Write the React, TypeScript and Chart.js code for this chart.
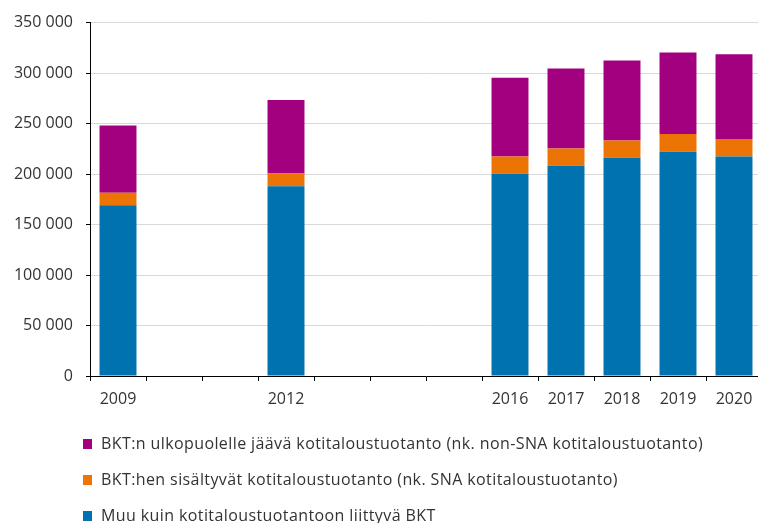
import React, { useEffect, useRef } from "react";
import { Chart, registerables } from "chart.js";

Chart.register(...registerables);

const years = ["2009", "2010", "2011", "2012", "2013", "2014", "2015", "2016", "2017", "2018", "2019", "2020"];
const otherGdp = [169000, null, null, 188000, null, null, null, 200400, 208300, 216200, 222100, 217500];
const snaHousehold = [12400, null, null, 12500, null, null, null, 17100, 17100, 17100, 17500, 17100];
const nonSnaHousehold = [66700, null, null, 72800, null, null, null, 77800, 79100, 79100, 80700, 84100];
const yMax = 350000;
const yStep = 50000;

const seriesNames = [
  "Muu kuin kotitaloustuotantoon liittyvä BKT",
  "BKT:hen sisältyvät kotitaloustuotanto (nk. SNA kotitaloustuotanto)",
  "BKT:n ulkopuolelle jäävä kotitaloustuotanto (nk. non-SNA kotitaloustuotanto)",
];
const seriesColors = ["#0072b0", "#eb7405", "#a3007f"];

const FONT = "'Open Sans', 'Noto Sans', sans-serif";
const TEXT = "#333333";

function fmt(v: number): string {
  return String(v).replace(/\B(?=(\d{3})+(?!\d))/g, " ");
}

const legendPlugin = {
  id: "rowLegend",
  afterDraw(chart: any) {
    const ctx = chart.ctx;
    const rows = [444, 480, 516];
    const order = [2, 1, 0];
    ctx.save();
    ctx.font = `16px ${FONT}`;
    try {
      (ctx as any).letterSpacing = "0.4px";
    } catch (e) {}
    ctx.textBaseline = "middle";
    ctx.textAlign = "left";
    order.forEach((dsIndex, i) => {
      const ds = chart.data.datasets[dsIndex];
      const y = rows[i];
      ctx.fillStyle = ds.backgroundColor;
      ctx.fillRect(83, y - 5, 9, 10);
      ctx.fillStyle = TEXT;
      ctx.fillText(ds.label, 101, y);
    });
    ctx.restore();
  },
};

export default function App() {
  const ref = useRef<HTMLCanvasElement | null>(null);

  useEffect(() => {
    if (!ref.current) return;
    const chart = new Chart(ref.current, {
      type: "bar",
      data: {
        labels: years,
        datasets: [
          { label: seriesNames[0], data: otherGdp, backgroundColor: seriesColors[0] },
          { label: seriesNames[1], data: snaHousehold, backgroundColor: seriesColors[1] },
          { label: seriesNames[2], data: nonSnaHousehold, backgroundColor: seriesColors[2] },
        ],
      },
      options: {
        animation: false,
        responsive: false,
        devicePixelRatio: 1,
        layout: { padding: { top: 22, left: 0, right: 0, bottom: 107 } },
        datasets: { bar: { barPercentage: 0.66, categoryPercentage: 1, borderWidth: 0 } },
        plugins: { legend: { display: false }, tooltip: { enabled: false } },
        scales: {
          x: {
            stacked: true,
            afterFit: (s: any) => {
              s.height = 40;
            },
            grid: {
              offset: true,
              drawOnChartArea: false,
              drawTicks: true,
              tickLength: 5,
              tickColor: "#000000",
              tickWidth: 1,
            },
            border: { display: true, color: "#000000", width: 1 },
            ticks: {
              autoSkip: false,
              maxRotation: 0,
              padding: 9,
              color: TEXT,
              font: { family: FONT, size: 16 },
              callback: (_v: any, i: number) => (otherGdp[i] === null ? "" : years[i]),
            },
          },
          y: {
            stacked: true,
            min: 0,
            max: yMax,
            afterFit: (s: any) => {
              s.width = 90;
            },
            grid: {
              color: "#d9d9d9",
              lineWidth: 1,
              drawTicks: true,
              tickLength: 4,
              tickColor: "#000000",
            },
            border: { display: true, color: "#000000", width: 1 },
            ticks: {
              stepSize: yStep,
              padding: 13,
              color: TEXT,
              font: { family: FONT, size: 16 },
              callback: (v: any) => fmt(Number(v)),
            },
          },
        },
      },
      plugins: [legendPlugin],
    });
    return () => chart.destroy();
  }, []);

  return (
    <div style={{ position: "fixed", left: 0, top: 0, width: 758, height: 523, overflow: "hidden", background: "#fff" }}>
      <canvas ref={ref} width={762} height={523} style={{ width: 762, height: 523, display: "block" }} />
    </div>
  );
}
